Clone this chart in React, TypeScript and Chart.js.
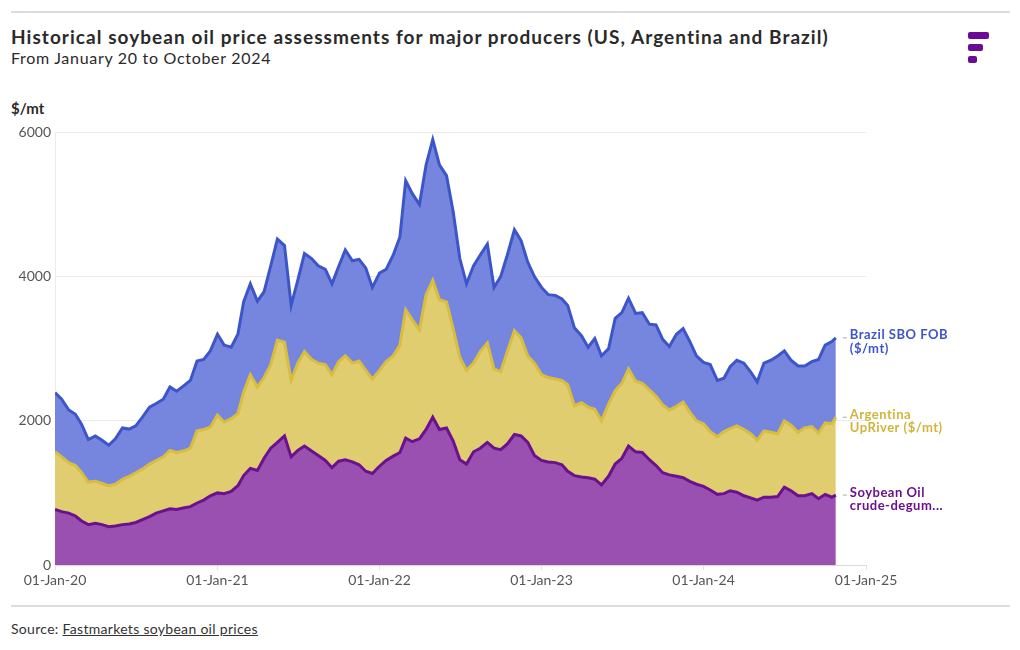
import React, { useEffect, useRef } from "react";
import { Chart, registerables } from "chart.js";

Chart.register(...registerables);

// ---- Data ----
const pad = (n: number) => (n < 10 ? "0" + n : "" + n);
const DATES: string[] = [];
for (let y = 2020; y <= 2024; y++) {
  for (let m = 1; m <= 12; m++) {
    if (y === 2024 && m > 10) continue;
    DATES.push(`${y}-${pad(m)}-01`);
    DATES.push(`${y}-${pad(m)}-16`);
  }
}
DATES.push("2024-10-25");

// Soybean Oil crude-degummed ($/mt)
const US_CRUDE = [
  770, 740, 720, 680, 610, 560, 580, 560, 530, 540,
  560, 570, 590, 630, 670, 720, 750, 780, 770, 790,
  810, 860, 900, 960, 1000, 990, 1020, 1100, 1240, 1340,
  1310, 1480, 1620, 1700, 1790, 1500, 1590, 1650, 1580, 1520,
  1450, 1350, 1440, 1460, 1430, 1390, 1300, 1270, 1370, 1450,
  1510, 1560, 1760, 1710, 1750, 1880, 2050, 1880, 1900, 1720,
  1460, 1400, 1570, 1620, 1700, 1620, 1600, 1680, 1810, 1790,
  1700, 1520, 1450, 1430, 1420, 1390, 1300, 1240, 1220, 1210,
  1190, 1110, 1230, 1400, 1480, 1650, 1570, 1560, 1460, 1380,
  1280, 1250, 1230, 1210, 1160, 1120, 1090, 1040, 980, 990,
  1030, 1010, 960, 930, 900, 940, 940, 950, 1080, 1030,
  960, 960, 990, 920, 980, 940, 970,
];

// Argentina UpRiver ($/mt)
const ARGENTINA = [
  800, 760, 700, 700, 670, 590, 580, 570, 570, 580,
  630, 660, 690, 700, 730, 730, 750, 810, 790, 790,
  810, 1000, 980, 950, 1080, 990, 1010, 1000, 1160, 1300,
  1160, 1120, 1160, 1420, 1300, 1060, 1210, 1310, 1270, 1280,
  1330, 1290, 1380, 1440, 1370, 1440, 1400, 1310, 1330, 1370,
  1390, 1490, 1780, 1690, 1510, 1870, 1900, 1800, 1750, 1560,
  1420, 1300, 1230, 1340, 1380, 1100, 1080, 1280, 1440, 1360,
  1200, 1280, 1190, 1170, 1160, 1170, 1200, 970, 1030, 980,
  970, 890, 1000, 1020, 1040, 1070, 980, 960, 970, 960,
  940, 900, 970, 1050, 960, 880, 870, 810, 800, 860,
  860, 920, 920, 890, 830, 920, 900, 870, 920, 910,
  880, 940, 930, 910, 990, 1020, 1080,
];

// Brazil SBO FOB ($/mt)
const BRAZIL = [
  820, 800, 730, 710, 670, 590, 630, 600, 560, 630,
  710, 655, 650, 720, 790, 790, 800, 880, 850, 900,
  940, 970, 970, 1060, 1120, 1070, 990, 1100, 1250, 1260,
  1190, 1190, 1370, 1400, 1340, 1040, 1150, 1360, 1400, 1350,
  1320, 1260, 1320, 1470, 1420, 1410, 1420, 1270, 1350, 1280,
  1400, 1500, 1790, 1750, 1740, 1800, 1950, 1870, 1750, 1620,
  1370, 1200, 1350, 1340, 1370, 1130, 1320, 1340, 1400, 1350,
  1300, 1200, 1210, 1150, 1160, 1130, 1100, 1080, 930, 830,
  980, 900, 770, 1000, 980, 980, 940, 980, 910, 990,
  910, 880, 1000, 1020, 980, 900, 850, 930, 780, 740,
  860, 910, 920, 860, 810, 940, 1000, 1080, 970, 900,
  920, 860, 900, 1020, 1080, 1140, 1100,
];

const SERIES_NAMES = [
  "Soybean Oil crude-degummed ($/mt)",
  "Argentina UpRiver ($/mt)",
  "Brazil SBO FOB ($/mt)",
];
const SERIES_LABELS = [
  ["Soybean Oil", "crude-degum..."],
  ["Argentina", "UpRiver ($/mt)"],
  ["Brazil SBO FOB", "($/mt)"],
];
const X_TICK_DATES = ["2020-01-01", "2021-01-01", "2022-01-01", "2023-01-01", "2024-01-01", "2025-01-01"];
const X_TICK_LABELS = ["01-Jan-20", "01-Jan-21", "01-Jan-22", "01-Jan-23", "01-Jan-24", "01-Jan-25"];
const Y_TICKS = [0, 2000, 4000, 6000];

const LINE_COLORS = ["#6b1190", "#d8bd3e", "#3c55c9"];
const FILL_COLORS = ["#9a50b0", "#dfcd70", "#7686de"];
const LABEL_COLORS = ["#6b1190", "#d2b43a", "#3c55c9"];

const FONT = "Lato, 'Open Sans', sans-serif";

const toDay = (s: string) => {
  const [y, m, d] = s.split("-").map(Number);
  return (Date.UTC(y, m - 1, d) - Date.UTC(2020, 0, 1)) / 86400000;
};

const endLabels = {
  id: "endLabels",
  afterDatasetsDraw(chart: any) {
    const ctx = chart.ctx;
    chart.data.datasets.forEach((_ds: any, i: number) => {
      const meta = chart.getDatasetMeta(i);
      const pt = meta.data[meta.data.length - 1];
      if (!pt) return;
      const lines = SERIES_LABELS[i];
      const cy = pt.y + 4;
      ctx.save();
      ctx.strokeStyle = "#aaaaaa";
      ctx.lineWidth = 1;
      ctx.beginPath();
      ctx.moveTo(pt.x + 7, pt.y);
      ctx.lineTo(pt.x + 11, pt.y);
      ctx.stroke();
      ctx.font = `bold 13px ${FONT}`;
      try {
        (ctx as any).letterSpacing = "0.5px";
      } catch (e) {}
      ctx.fillStyle = LABEL_COLORS[i];
      ctx.textBaseline = "middle";
      ctx.textAlign = "left";
      lines.forEach((t, j) => {
        ctx.fillText(t, pt.x + 14, cy + (j - (lines.length - 1) / 2) * 13.5);
      });
      ctx.restore();
    });
  },
};

export default function App() {
  const canvasRef = useRef<HTMLCanvasElement | null>(null);

  useEffect(() => {
    if (!canvasRef.current) return;
    const xs = DATES.map(toDay);
    const seriesValues = [US_CRUDE, ARGENTINA, BRAZIL];
    const tickValues = X_TICK_DATES.map(toDay);
    const chart = new Chart(canvasRef.current, {
      type: "line",
      data: {
        datasets: seriesValues.map((vals, i) => ({
          label: SERIES_NAMES[i],
          data: vals.map((v, j) => ({ x: xs[j], y: v })),
          borderColor: LINE_COLORS[i],
          backgroundColor: FILL_COLORS[i],
          borderWidth: 3,
          pointRadius: 0,
          tension: 0,
          fill: i === 0 ? "origin" : "-1",
        })),
      },
      options: {
        animation: false,
        responsive: false,
        maintainAspectRatio: false,
        layout: { padding: { top: 10, right: 154, left: 0, bottom: 0 } },
        plugins: {
          legend: { display: false },
          tooltip: { enabled: false },
        },
        scales: {
          x: {
            type: "linear",
            min: 0,
            max: tickValues[tickValues.length - 1],
            afterBuildTicks: (scale: any) => {
              scale.ticks = tickValues.map((v) => ({ value: v }));
            },
            afterFit: (scale: any) => {
              scale.height = 35;
            },
            grid: {
              drawOnChartArea: false,
              color: "#e2e2e2",
              tickLength: 5,
            },
            border: { color: "#d9d9d9", width: 1 },
            ticks: {
              autoSkip: false,
              maxRotation: 0,
              padding: 2,
              color: "#555555",
              font: { family: FONT, size: 14 },
              callback: (v: any) => {
                const idx = tickValues.indexOf(Number(v));
                return idx >= 0 ? X_TICK_LABELS[idx] : "";
              },
            },
          },
          y: {
            stacked: true,
            min: 0,
            max: 6000,
            afterBuildTicks: (scale: any) => {
              scale.ticks = Y_TICKS.map((v) => ({ value: v }));
            },
            afterFit: (scale: any) => {
              scale.width = 55;
            },
            grid: { color: "#ebebeb", drawTicks: false },
            border: { display: true, color: "#ebebeb" },
            ticks: {
              padding: 4,
              color: "#555555",
              font: { family: FONT, size: 14 },
              callback: (v: any) => String(v),
            },
          },
        },
      },
      plugins: [endLabels],
    });
    return () => chart.destroy();
  }, []);

  return (
    <div
      style={{
        position: "absolute",
        left: 0,
        top: 0,
        width: 1020,
        height: 650,
        background: "#ffffff",
        fontFamily: FONT,
        color: "#222",
        overflow: "hidden",
      }}
    >
      <div style={{ position: "absolute", left: 11, top: 11, width: 999, height: 2, background: "#dddddd" }} />
      <div
        style={{
          position: "absolute",
          left: 11,
          top: 25,
          fontSize: 19,
          fontWeight: 700,
          letterSpacing: 1.05,
          color: "#2a2a2a",
          whiteSpace: "nowrap",
        }}
      >
        Historical soybean oil price assessments for major producers (US, Argentina and Brazil)
      </div>
      <div
        style={{
          position: "absolute",
          left: 11,
          top: 48,
          fontSize: 16,
          letterSpacing: 0.7,
          color: "#2a2a2a",
          whiteSpace: "nowrap",
        }}
      >
        From January 20 to October 2024
      </div>
      <div style={{ position: "absolute", left: 968, top: 32, width: 21, height: 7, borderRadius: 2, background: "#6a0a96" }} />
      <div style={{ position: "absolute", left: 968, top: 44, width: 15, height: 7, borderRadius: 2, background: "#6a0a96" }} />
      <div style={{ position: "absolute", left: 968, top: 56, width: 9, height: 7, borderRadius: 2, background: "#6a0a96" }} />
      <div style={{ position: "absolute", left: 11, top: 99, fontSize: 15, fontWeight: 700, color: "#2a2a2a" }}>$/mt</div>
      <canvas
        ref={canvasRef}
        width={1020}
        height={480}
        style={{ position: "absolute", left: 0, top: 120, width: 1020, height: 480 }}
      />
      <div style={{ position: "absolute", left: 11, top: 605, width: 999, height: 2, background: "#dddddd" }} />
      <div style={{ position: "absolute", left: 11, top: 620, fontSize: 14, letterSpacing: 0.3, color: "#333" }}>
        Source: <span style={{ textDecoration: "underline" }}>Fastmarkets soybean oil prices</span>
      </div>
    </div>
  );
}
